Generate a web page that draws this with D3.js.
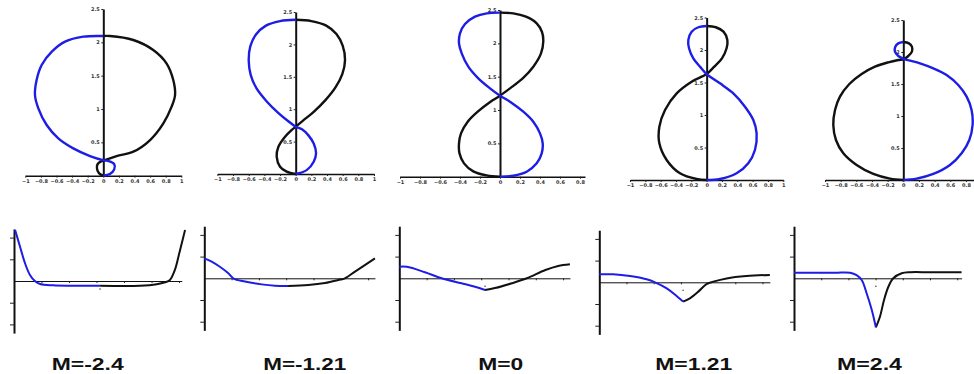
<!DOCTYPE html>
<html>
<head>
<meta charset="utf-8">
<script src="https://cdn.jsdelivr.net/npm/d3@7"></script>
<style>
  html, body { margin: 0; padding: 0; background: #fff; }
  svg { display: block; }
</style>
</head>
<body>
<svg id="chart" width="974" height="374"></svg>
<script>
// values: elastica shapes (x, y) and curvature k(s)
// blue = first half of the curve, black = second half
const labels = ["M=-2.4", "M=-1.21", "M=0", "M=1.21", "M=2.4"];

const topXTicks = [-1, -0.8, -0.6, -0.4, -0.2, 0, 0.2, 0.4, 0.6, 0.8, 1];
const topYTicks = [0.5, 1, 1.5, 2, 2.5];
const botXTicks = [1, 2, 3, 4, 5, 6];
const botYTicks = [-2, -1, 1, 2];

const shape1Blue = [[0,0],[0.085,0.025],[0.14,0.095],[0.14,0.175],[0.07,0.22],[0.01,0.23],[-0.17,0.295],[-0.385,0.41],[-0.577,0.56],[-0.726,0.76],[-0.833,1.01],[-0.876,1.21],[-0.855,1.435],[-0.79,1.66],[-0.66,1.86],[-0.49,2.01],[-0.256,2.085],[0,2.095]];
const shape1Black = [[0,0],[-0.05,0.03],[-0.08,0.1],[-0.075,0.17],[-0.03,0.215],[0.01,0.23],[0.17,0.295],[0.385,0.36],[0.6,0.535],[0.77,0.785],[0.876,1.035],[0.92,1.21],[0.897,1.435],[0.81,1.685],[0.64,1.885],[0.385,2.035],[0.085,2.095],[0,2.095]];

const shape2Blue = [[0,0],[0.14,0.06],[0.23,0.19],[0.26,0.32],[0.23,0.47],[0.16,0.6],[0.08,0.69],[0,0.73],[-0.09,0.81],[-0.22,0.94],[-0.37,1.12],[-0.5,1.32],[-0.575,1.53],[-0.6,1.75],[-0.58,1.97],[-0.51,2.15],[-0.38,2.29],[-0.2,2.36],[0,2.38]];
const shape2Black = [[0,0],[-0.115,0.036],[-0.2,0.113],[-0.243,0.267],[-0.221,0.42],[-0.136,0.576],[-0.05,0.68],[0,0.73],[0.09,0.82],[0.23,0.96],[0.38,1.14],[0.51,1.34],[0.595,1.54],[0.63,1.76],[0.6,1.98],[0.52,2.16],[0.39,2.29],[0.2,2.36],[0,2.38]];

const shape3Blue = [[0,0],[0.133,0.015],[0.267,0.075],[0.367,0.2],[0.417,0.35],[0.427,0.5],[0.4,0.65],[0.333,0.825],[0.233,0.975],[0.1,1.125],[0,1.215],[-0.1,1.325],[-0.217,1.475],[-0.317,1.65],[-0.383,1.85],[-0.41,2.0],[-0.4,2.15],[-0.35,2.29],[-0.25,2.4],[-0.133,2.45],[0,2.46]];
const shape3Black = [[0,0],[-0.133,0.02],[-0.267,0.08],[-0.36,0.2],[-0.405,0.35],[-0.41,0.5],[-0.39,0.65],[-0.323,0.825],[-0.223,0.975],[-0.095,1.125],[0,1.215],[0.1,1.325],[0.227,1.475],[0.333,1.65],[0.41,1.85],[0.433,2.03],[0.42,2.17],[0.367,2.3],[0.26,2.4],[0.133,2.45],[0,2.46]];

const shape4Blue = [[0,0],[0.174,0.015],[0.391,0.103],[0.543,0.256],[0.63,0.462],[0.652,0.718],[0.609,0.923],[0.5,1.128],[0.348,1.333],[0.174,1.487],[0,1.63],[-0.087,1.744],[-0.174,1.872],[-0.23,2.026],[-0.239,2.154],[-0.196,2.282],[-0.109,2.35],[0,2.37]];
const shape4Black = [[0,0],[-0.13,0.015],[-0.348,0.103],[-0.522,0.308],[-0.617,0.564],[-0.617,0.82],[-0.543,1.077],[-0.391,1.333],[-0.196,1.513],[0,1.63],[0.1,1.744],[0.2,1.872],[0.26,2.026],[0.27,2.154],[0.22,2.282],[0.12,2.35],[0,2.37]];

const shape5Blue = [[0,0],[0.17,0.021],[0.383,0.094],[0.596,0.234],[0.745,0.417],[0.843,0.625],[0.885,0.859],[0.872,1.094],[0.809,1.302],[0.702,1.484],[0.553,1.641],[0.383,1.745],[0.213,1.823],[0.085,1.865],[0.01,1.89],[-0.064,1.9375],[-0.106,2.005],[-0.102,2.083],[-0.064,2.135],[0,2.156]];
const shape5Black = [[0,0],[-0.17,0.021],[-0.383,0.094],[-0.596,0.234],[-0.766,0.417],[-0.86,0.625],[-0.894,0.859],[-0.872,1.094],[-0.809,1.302],[-0.689,1.5],[-0.532,1.656],[-0.362,1.771],[-0.191,1.839],[-0.064,1.875],[0.01,1.89],[0.064,1.9375],[0.11,2.005],[0.11,2.083],[0.072,2.135],[0,2.156]];

const kappa1Blue = [[0.04,2.35],[0.22,1.58],[0.4,0.82],[0.58,0.28],[0.76,0],[0.95,-0.14],[1.43,-0.2],[1.92,-0.22],[3.13,-0.22]];
const kappa1Black = [[3.13,-0.22],[4.58,-0.22],[5.19,-0.15],[5.49,-0.06],[5.67,0.05],[5.85,0.51],[6.01,1.28],[6.16,2.04],[6.22,2.35]];

const kappa2Blue = [[0,0.92],[0.27,0.77],[0.57,0.53],[0.88,0.23],[1.06,0],[1.49,-0.15],[2.1,-0.28],[2.59,-0.34],[3.07,-0.35]];
const kappa2Black = [[3.07,-0.35],[3.81,-0.31],[4.42,-0.22],[4.91,-0.08],[5.15,0],[5.52,0.31],[5.88,0.61],[6.25,0.92]];

const kappa3Blue = [[0,0.53],[0.27,0.53],[0.94,0.28],[1.55,0],[2.28,-0.23],[2.77,-0.39],[3.14,-0.54]];
const kappa3Black = [[3.14,-0.54],[3.5,-0.45],[4.12,-0.23],[4.67,0],[5.35,0.38],[5.82,0.57],[6.25,0.65]];

const kappa4Blue = [[0,0.37],[0.51,0.37],[1.13,0.29],[1.74,0.14],[2.05,0],[2.48,-0.28],[2.84,-0.63],[3.08,-0.89]];
const kappa4Black = [[3.08,-0.89],[3.33,-0.74],[3.64,-0.43],[3.94,-0.08],[4.19,0.03],[4.68,0.18],[5.41,0.29],[6.27,0.34]];

const kappa5Blue = [[0,0.26],[1.5,0.26],[2.06,0.26],[2.3,0.15],[2.49,-0.08],[2.67,-0.69],[2.86,-1.46],[3.01,-2.26]];
const kappa5Black = [[3.01,-2.26],[3.16,-1.77],[3.31,-1.0],[3.47,-0.39],[3.65,0],[3.96,0.23],[4.26,0.28],[5.0,0.28],[6.16,0.28]];

const shapes = [[shape1Blue, shape1Black], [shape2Blue, shape2Black], [shape3Blue, shape3Black], [shape4Blue, shape4Black], [shape5Blue, shape5Black]];
const kappas = [[kappa1Blue, kappa1Black], [kappa2Blue, kappa2Black], [kappa3Blue, kappa3Black], [kappa4Blue, kappa4Black], [kappa5Blue, kappa5Black]];

// pixel frames of the ten small plots
const topFrames = [
  { x: [25.3, 181.3], y: [175.7, 9],    xEnd: 1 },
  { x: [217.4, 374],  y: [174, 12],     xEnd: 1 },
  { x: [400, 600],    y: [176.7, 10],   xEnd: 0.85 },
  { x: [630, 783.3],  y: [180, 17.5],   xEnd: 1 },
  { x: [825, 981.6],  y: [180, 20],     xEnd: 1 }
];
const botFrames = [
  { x0: 14,    kx: 27.5, y0: 281,   xEnd: 6.1 },
  { x0: 204.3, kx: 27.3, y0: 278.3, xEnd: 6.25 },
  { x0: 399.3, kx: 27.3, y0: 278.3, xEnd: 6.25 },
  { x0: 599.3, kx: 27.2, y0: 282.3, xEnd: 6.27 },
  { x0: 794,   kx: 27.2, y0: 278.3, xEnd: 6.16 }
];
const labelBoxes = [[51.7, 72], [263.3, 83], [478.3, 45], [655.3, 77], [837, 65]];

const BLUE = "#1d1de6";
const BLACK = "#111";
const W = 974;
const svg = d3.select("#chart");

const line = d3.line().curve(d3.curveCatmullRom.alpha(0.5));

function styleAxis(g, w) {
  g.select(".domain").attr("stroke", "#111").attr("stroke-width", w);
  g.selectAll(".tick line").attr("stroke", "#222").attr("stroke-width", 1);
  g.selectAll(".tick text")
    .attr("fill", "#333")
    .style("font", "bold 5px 'DejaVu Sans', sans-serif");
}

// top row: curve shapes
topFrames.forEach((f, i) => {
  const x = d3.scaleLinear().domain([-1, 1]).range(f.x);
  const y = d3.scaleLinear().domain([0, 2.5]).range(f.y);
  const xa = d3.scaleLinear().domain([-1, f.xEnd]).range([x(-1), x(f.xEnd)]);
  const g = svg.append("g");

  g.append("g")
    .attr("transform", `translate(0,${y(0)})`)
    .call(d3.axisBottom(xa).tickValues(topXTicks.filter(t => t <= f.xEnd && x(t) < W - 8))
      .tickSize(2).tickSizeOuter(0).tickPadding(1.5).tickFormat(d3.format("~g")))
    .call(a => styleAxis(a, 1.5));

  g.append("g")
    .attr("transform", `translate(${x(0)},0)`)
    .call(d3.axisLeft(y).tickValues(topYTicks)
      .tickSize(2).tickSizeOuter(0).tickPadding(1.5).tickFormat(d3.format("~g")))
    .call(a => styleAxis(a, 2));

  const ln = line.x(d => x(d[0])).y(d => y(d[1]));
  g.append("path").attr("d", ln(shapes[i][1]))
    .attr("fill", "none").attr("stroke", BLACK).attr("stroke-width", 2.4);
  g.append("path").attr("d", ln(shapes[i][0]))
    .attr("fill", "none").attr("stroke", BLUE).attr("stroke-width", 2.4);
});

// bottom row: curvature along the arc
botFrames.forEach((f, i) => {
  const x = d3.scaleLinear().domain([0, 1]).range([f.x0, f.x0 + f.kx]);
  const y = d3.scaleLinear().domain([0, 1]).range([f.y0, f.y0 - 21.7]);
  const xa = d3.scaleLinear().domain([0, f.xEnd]).range([x(0), x(f.xEnd)]);
  const ya = d3.scaleLinear().domain([-2.4, 2.4]).range([y(-2.4), y(2.4)]);
  const g = svg.append("g");

  g.append("g")
    .attr("transform", `translate(0,${f.y0})`)
    .call(d3.axisBottom(xa).tickValues(botXTicks).tickSize(2).tickSizeOuter(0).tickFormat(""))
    .call(a => styleAxis(a, 1));

  g.append("g")
    .attr("transform", `translate(${f.x0},0)`)
    .call(d3.axisLeft(ya).tickValues(botYTicks).tickSize(4).tickSizeOuter(0).tickFormat(""))
    .call(a => styleAxis(a, 2));

  const blue = kappas[i][0], black = kappas[i][1];
  const mid = blue[blue.length - 1][0];
  g.append("circle").attr("cx", x(mid)).attr("cy", f.y0 + 8).attr("r", 0.8).attr("fill", "#444");

  const ln = line.x(d => x(d[0])).y(d => y(d[1]));
  g.append("path").attr("d", ln(black))
    .attr("fill", "none").attr("stroke", BLACK).attr("stroke-width", 2);
  g.append("path").attr("d", ln(blue))
    .attr("fill", "none").attr("stroke", BLUE).attr("stroke-width", 2);
});

// captions
svg.append("g").selectAll("text")
  .data(labels)
  .join("text")
  .attr("x", (d, i) => labelBoxes[i][0])
  .attr("y", 369.5)
  .attr("textLength", (d, i) => labelBoxes[i][1])
  .attr("lengthAdjust", "spacingAndGlyphs")
  .attr("fill", "#111")
  .style("font", "bold 16px 'Liberation Sans', Arial, sans-serif")
  .text(d => d);
</script>
</body>
</html>
